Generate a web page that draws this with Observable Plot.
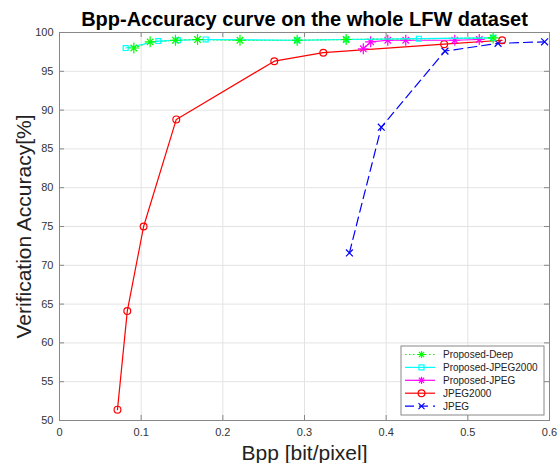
<!DOCTYPE html>
<html>
<head>
<meta charset="utf-8">
<script src="https://cdn.jsdelivr.net/npm/d3@7"></script>
<script src="https://cdn.jsdelivr.net/npm/@observablehq/plot@0.6"></script>
<style>
  html, body { margin: 0; padding: 0; background: #fff; }
  #chart svg { display: block; font-family: "Liberation Sans", Arial, Helvetica, sans-serif; }
</style>
</head>
<body>
<div id="chart"></div>
<script>
// ---- data ----
const titleText = "Bpp-Accuracy curve on the whole LFW dataset";
const xLabel = "Bpp [bit/pixel]";
const yLabel = "Verification Accuracy[%]";

const xTicks = [0, 0.1, 0.2, 0.3, 0.4, 0.5, 0.6];
const yTicks = [50, 55, 60, 65, 70, 75, 80, 85, 90, 95, 100];

const deepX = [0.091, 0.111, 0.142, 0.169, 0.221, 0.291, 0.351, 0.531];
const deepY = [98.0, 98.8, 99.0, 99.1, 99.0, 99.0, 99.1, 99.3];

const pj2kX = [0.081, 0.121, 0.145, 0.179, 0.291, 0.351, 0.440, 0.531];
const pj2kY = [98.0, 98.9, 99.0, 99.1, 99.0, 99.1, 99.2, 99.3];

const pjpgX = [0.372, 0.381, 0.402, 0.424, 0.484, 0.514];
const pjpgY = [97.9, 98.8, 99.0, 99.0, 99.0, 99.1];

const j2kX = [0.071, 0.083, 0.103, 0.143, 0.263, 0.323, 0.471, 0.542];
const j2kY = [51.4, 64.1, 75.0, 88.8, 96.3, 97.4, 98.5, 99.0];

const jpgX = [0.355, 0.394, 0.472, 0.537, 0.594];
const jpgY = [71.6, 87.8, 97.6, 98.6, 98.8];

const seriesNames = ["Proposed-Deep", "Proposed-JPEG2000", "Proposed-JPEG", "JPEG2000", "JPEG"];
const seriesColors = ["#00ff00", "#00ffff", "#ff00ff", "#ff0000", "#0000ff"];

// ---- build tables ----
const zip = (xs, ys) => xs.map((x, i) => ({x, y: ys[i]}));
const deep = zip(deepX, deepY);
const pj2k = zip(pj2kX, pj2kY);
const pjpg = zip(pjpgX, pjpgY);
const j2k = zip(j2kX, j2kY);
const jpg = zip(jpgX, jpgY);

const W = 559, H = 463;
const mL = 59, mR = 10, mT = 32, mB = 43;
const frameW = W - mL - mR, frameH = H - mT - mB;
const axisColor = "#888";
const labelColor = "#333";
const lw = 1.2;

const asterisk = (data, color, r) => [
  Plot.dot(data, {x: "x", y: "y", symbol: "plus", r, stroke: color, strokeWidth: lw, fill: "none"}),
  Plot.dot(data, {x: "x", y: "y", symbol: "times", r: r * 0.85, stroke: color, strokeWidth: lw, fill: "none"})
];

const plot = Plot.plot({
  width: W, height: H,
  marginLeft: mL, marginRight: mR, marginTop: mT, marginBottom: mB,
  style: {fontFamily: "'Liberation Sans', Arial, Helvetica, sans-serif", background: "#fff"},
  x: {domain: [0, 0.6], ticks: xTicks},
  y: {domain: [50, 100], ticks: yTicks},
  marks: [
    Plot.gridX(xTicks, {stroke: "#e3e3e3", strokeOpacity: 1}),
    Plot.gridY(yTicks, {stroke: "#e3e3e3", strokeOpacity: 1}),
    // inside ticks
    Plot.tickY(yTicks, {y: d => d, insetRight: frameW - 5, stroke: axisColor}),
    Plot.tickY(yTicks, {y: d => d, insetLeft: frameW - 5, stroke: axisColor}),
    Plot.tickX(xTicks, {x: d => d, insetTop: frameH - 5, stroke: axisColor}),
    Plot.tickX(xTicks, {x: d => d, insetBottom: frameH - 5, stroke: axisColor}),
    Plot.axisY(yTicks, {anchor: "left", tickSize: 0, tickPadding: 6, fontSize: 11, fill: labelColor, label: null, tickFormat: d => String(d)}),
    Plot.axisX(xTicks, {anchor: "bottom", tickSize: 0, tickPadding: 8, fontSize: 11, fill: labelColor, label: null, tickFormat: d => String(d)}),
    Plot.frame({stroke: axisColor}),
    // JPEG
    Plot.line(jpg, {x: "x", y: "y", stroke: seriesColors[4], strokeWidth: lw, strokeDasharray: "9,5"}),
    Plot.dot(jpg, {x: "x", y: "y", symbol: "times", r: 3.2, stroke: seriesColors[4], strokeWidth: lw}),
    // JPEG2000
    Plot.line(j2k, {x: "x", y: "y", stroke: seriesColors[3], strokeWidth: lw}),
    Plot.dot(j2k, {x: "x", y: "y", symbol: "circle", r: 3.4, stroke: seriesColors[3], strokeWidth: lw, fill: "none"}),
    // Proposed-JPEG
    Plot.line(pjpg, {x: "x", y: "y", stroke: seriesColors[2], strokeWidth: lw}),
    ...asterisk(pjpg, seriesColors[2], 3.6),
    // Proposed-Deep line (dotted)
    Plot.line(deep, {x: "x", y: "y", stroke: seriesColors[0], strokeWidth: lw, strokeDasharray: "1.5,2.5"}),
    // Proposed-JPEG2000
    Plot.line(pj2k, {x: "x", y: "y", stroke: seriesColors[1], strokeWidth: lw}),
    Plot.dot(pj2k, {x: "x", y: "y", symbol: "square", r: 2.8, stroke: seriesColors[1], strokeWidth: lw, fill: "none"}),
    ...asterisk(deep, seriesColors[0], 3.6),
    // texts
    Plot.text([titleText], {frameAnchor: "top", lineAnchor: "bottom", dy: -7, fontSize: 20, fontWeight: "bold", fill: "#000"}),
    Plot.text([xLabel], {frameAnchor: "bottom", lineAnchor: "bottom", dy: 39, fontSize: 21, fill: "#222"}),
    Plot.text([yLabel], {frameAnchor: "left", textAnchor: "middle", rotate: -90, dx: -35, fontSize: 21, fill: "#222"})
  ]
});

document.getElementById("chart").appendChild(plot);

// ---- legend ----
const svg = d3.select(plot);
const lg = svg.append("g").attr("class", "legend").attr("text-anchor", "start");
const lx = 401, ly = 346, lwid = 143, lhei = 69;
lg.append("rect").attr("x", lx).attr("y", ly).attr("width", lwid).attr("height", lhei)
  .attr("fill", "#fff").attr("stroke", axisColor).attr("stroke-width", 1);
const dashes = ["1.5,2.5", null, null, null, "9,5"];
seriesNames.forEach((name, i) => {
  const cy = ly + 8.5 + i * 12.9;
  const c = seriesColors[i];
  const row = lg.append("g");
  row.append("line").attr("x1", lx + 4).attr("x2", lx + 34).attr("y1", cy).attr("y2", cy)
    .attr("stroke", c).attr("stroke-width", lw).attr("stroke-dasharray", dashes[i]);
  const mx = lx + 20.5;
  if (i === 0 || i === 2) {
    row.append("path").attr("transform", `translate(${mx},${cy})`)
      .attr("d", `M-3.6,0H3.6M0,-3.6V3.6M-2.6,-2.6L2.6,2.6M-2.6,2.6L2.6,-2.6`)
      .attr("fill", "none").attr("stroke", c).attr("stroke-width", lw);
  } else if (i === 1) {
    row.append("rect").attr("x", mx - 2.5).attr("y", cy - 2.5).attr("width", 5).attr("height", 5)
      .attr("fill", "none").attr("stroke", c).attr("stroke-width", lw);
  } else if (i === 3) {
    row.append("circle").attr("cx", mx).attr("cy", cy).attr("r", 3.4)
      .attr("fill", "none").attr("stroke", c).attr("stroke-width", lw);
  } else {
    row.append("path").attr("transform", `translate(${mx},${cy})`)
      .attr("d", `M-3,-3L3,3M-3,3L3,-3`)
      .attr("fill", "none").attr("stroke", c).attr("stroke-width", lw);
  }
  row.append("text").attr("x", lx + 42).attr("y", cy).attr("dy", "0.35em")
    .attr("text-anchor", "start")
    .attr("font-size", 10).attr("fill", "#222").text(name);
});
</script>
</body>
</html>
